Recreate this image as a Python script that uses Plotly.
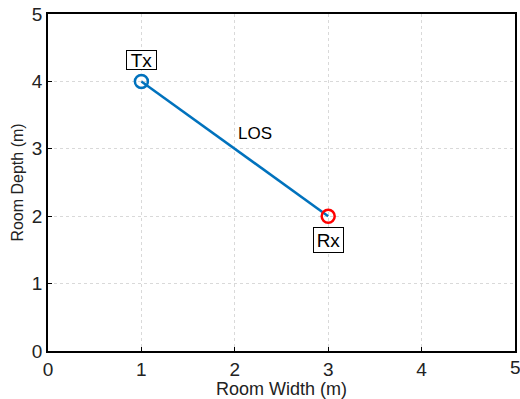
import plotly.graph_objects as go

path_x = [1, 3]
path_y = [4, 2]
tx = (1, 4)
rx = (3, 2)
ticks = [0, 1, 2, 3, 4, 5]

FAM = "Liberation Sans, Arial, sans-serif"

fig = go.Figure()
fig.add_trace(go.Scatter(x=path_x, y=path_y, mode="lines",
                         line=dict(color="#0072BD", width=2.5), showlegend=False))
fig.add_trace(go.Scatter(x=[tx[0]], y=[tx[1]], mode="markers",
                         marker=dict(symbol="circle-open", size=13, color="#0072BD",
                                     line=dict(width=2.5, color="#0072BD")), showlegend=False))
fig.add_trace(go.Scatter(x=[rx[0]], y=[rx[1]], mode="markers",
                         marker=dict(symbol="circle-open", size=13, color="#FF0000",
                                     line=dict(width=2.5, color="#FF0000")), showlegend=False))

fig.add_annotation(x=1, y=4.32, text="Tx", showarrow=False, bordercolor="black", borderwidth=1,
                   bgcolor="white", borderpad=0, width=29, height=18,
                   font=dict(family=FAM, size=19, color="black"))
fig.add_annotation(x=3, y=1.65, text="Rx", showarrow=False, bordercolor="black", borderwidth=1,
                   bgcolor="white", borderpad=0, width=29, height=24,
                   font=dict(family=FAM, size=19, color="black"))
fig.add_annotation(x=2.22, y=3.23, text="LOS", showarrow=False,
                   font=dict(family=FAM, size=17, color="black"))

# last x tick label (partly cut off at the right edge, as in the reference)
fig.add_annotation(x=ticks[-1], y=0, xref="x", yref="y", text=str(ticks[-1]), showarrow=False,
                   yanchor="top", yshift=-4, font=dict(family=FAM, size=19, color="#222"))

axis_common = dict(range=[0, 5], tickvals=ticks, showgrid=True, gridcolor="#d9d9d9", griddash="dot",
                   gridwidth=1, showline=True, linecolor="black", linewidth=1.5, mirror=True,
                   ticks="inside", ticklen=4, tickcolor="black", zeroline=False,
                   tickfont=dict(family=FAM, size=19, color="#222"))
fig.update_xaxes(**axis_common, title=dict(text="Room Width (m)", standoff=3,
                 font=dict(family=FAM, size=18, color="#222")))
fig.update_yaxes(**axis_common, title=dict(text="Room Depth (m)", standoff=4,
                 font=dict(family=FAM, size=16, color="#222")))

fig.update_layout(width=520, height=399, margin=dict(l=48, r=3, t=14, b=48),
                  plot_bgcolor="white", paper_bgcolor="white")
fig.write_html("out.html")
